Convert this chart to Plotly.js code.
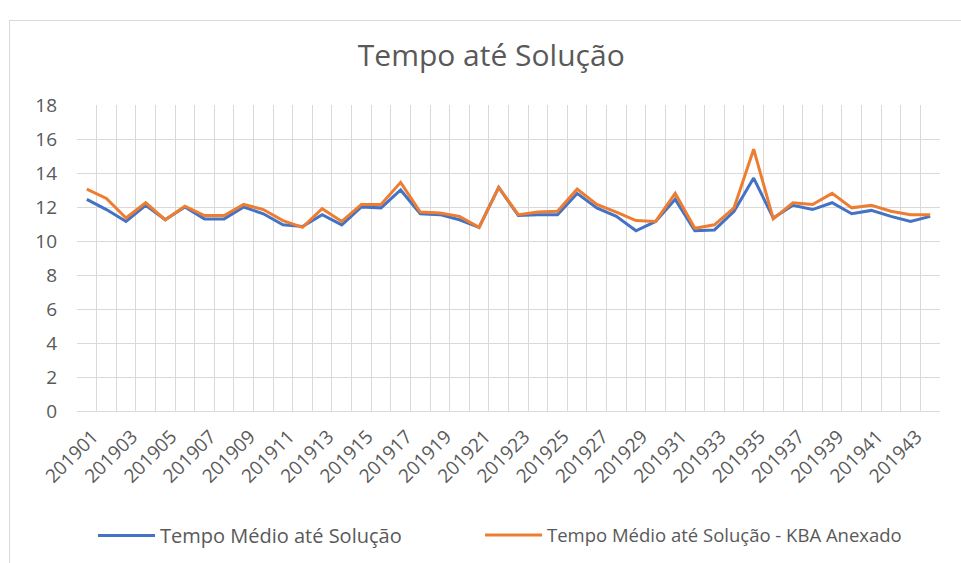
<!DOCTYPE html>
<html>
<head>
<meta charset="utf-8">
<script src="https://cdn.plot.ly/plotly-3.0.1.min.js"></script>
<style>
  html, body { margin: 0; padding: 0; background: #fff; overflow: hidden; width: 961px; height: 563px; }
  #chart { position: absolute; left: 0; top: 0; width: 961px; height: 563px; }
  #frame { position: absolute; left: 9px; top: 20px; width: 1000px; height: 600px; border: 1px solid #d9d9d9; pointer-events: none; }
</style>
</head>
<body>
<div id="chart"></div>
<div id="frame"></div>
<script>
const weeks = ["201901","201902","201903","201904","201905","201906","201907","201908","201909","201910",
  "201911","201912","201913","201914","201915","201916","201917","201918","201919","201920",
  "201921","201922","201923","201924","201925","201926","201927","201928","201929","201930",
  "201931","201932","201933","201934","201935","201936","201937","201938","201939","201940",
  "201941","201942","201943","201944"];

const tempoMedio = [12.45, 11.85, 11.15, 12.1, 11.25, 12.0, 11.3, 11.3, 12.0, 11.6,
  10.95, 10.85, 11.55, 10.95, 12.0, 11.95, 13.0, 11.6, 11.55, 11.25,
  10.8, 13.15, 11.5, 11.55, 11.55, 12.8, 11.95, 11.45, 10.6, 11.15,
  12.45, 10.6, 10.65, 11.75, 13.7, 11.35, 12.1, 11.85, 12.25, 11.6,
  11.8, 11.45, 11.15, 11.45];

const tempoMedioKBA = [13.05, 12.5, 11.35, 12.25, 11.25, 12.05, 11.5, 11.5, 12.15, 11.85,
  11.2, 10.8, 11.9, 11.15, 12.15, 12.15, 13.45, 11.7, 11.65, 11.45,
  10.8, 13.15, 11.55, 11.7, 11.75, 13.05, 12.15, 11.7, 11.2, 11.15,
  12.8, 10.75, 10.95, 11.95, 15.4, 11.3, 12.25, 12.15, 12.8, 11.95,
  12.1, 11.75, 11.55, 11.55];

const seriesNames = ["Tempo Médio até Solução", "Tempo Médio até Solução - KBA Anexado"];
const yTicks = [0, 2, 4, 6, 8, 10, 12, 14, 16, 18];

// every second week is labelled
const tickText = weeks.map((w, i) => (i % 2 === 0 ? w : ""));

const font = "Open Sans, Noto Sans, sans-serif";
const gray = "#595959";

const traces = [
  { x: weeks, y: tempoMedio, name: seriesNames[0], type: "scatter", mode: "lines",
    line: { color: "#4472C4", width: 3 }, legend: "legend" },
  { x: weeks, y: tempoMedioKBA, name: seriesNames[1], type: "scatter", mode: "lines",
    line: { color: "#ED7D31", width: 3 }, legend: "legend2" }
];

const legendBase = {
  orientation: "h", xref: "container", yref: "container", xanchor: "left",
  y: 0.049, yanchor: "middle",
  itemwidth: 57, bgcolor: "rgba(0,0,0,0)", borderwidth: 0
};

const layout = {
  width: 961, height: 563,
  margin: { l: 77, r: 21, t: 105, b: 152 },
  paper_bgcolor: "rgba(0,0,0,0)",
  plot_bgcolor: "#ffffff",
  title: { text: "Tempo até Solução", font: { family: font, size: 30, color: gray },
    x: 0.48, xref: "paper", xanchor: "center", y: 0.902, yref: "container", yanchor: "middle" },
  xaxis: {
    type: "category",
    categoryorder: "array", categoryarray: weeks,
    range: [-0.5, weeks.length - 0.5],
    tickson: "boundaries",
    tickmode: "array", tickvals: weeks, ticktext: tickText,
    tickangle: -45,
    ticks: "",
    ticklabelstandoff: 6,
    ticklabelshift: 6,
    automargin: false,
    showgrid: true, gridcolor: "#d9d9d9", gridwidth: 1,
    showline: true, linecolor: "#d9d9d9", linewidth: 1,
    zeroline: false,
    tickfont: { family: font, size: 19, color: gray },
    fixedrange: true
  },
  yaxis: {
    range: [0, 18],
    tickmode: "array", tickvals: yTicks,
    automargin: false,
    showgrid: true, gridcolor: "#d9d9d9", gridwidth: 1,
    zeroline: false, showline: false,
    ticks: "", ticklen: 0,
    ticklabelstandoff: 19,
    tickfont: { family: font, size: 19, color: gray },
    fixedrange: true
  },
  legend: Object.assign({}, legendBase, { x: 0.0968, font: { family: font, size: 20, color: gray } }),
  legend2: Object.assign({}, legendBase, { x: 0.4995, font: { family: font, size: 18.5, color: gray } }),
  showlegend: true
};

Plotly.newPlot("chart", traces, layout, { staticPlot: true, displayModeBar: false });
</script>
</body>
</html>
